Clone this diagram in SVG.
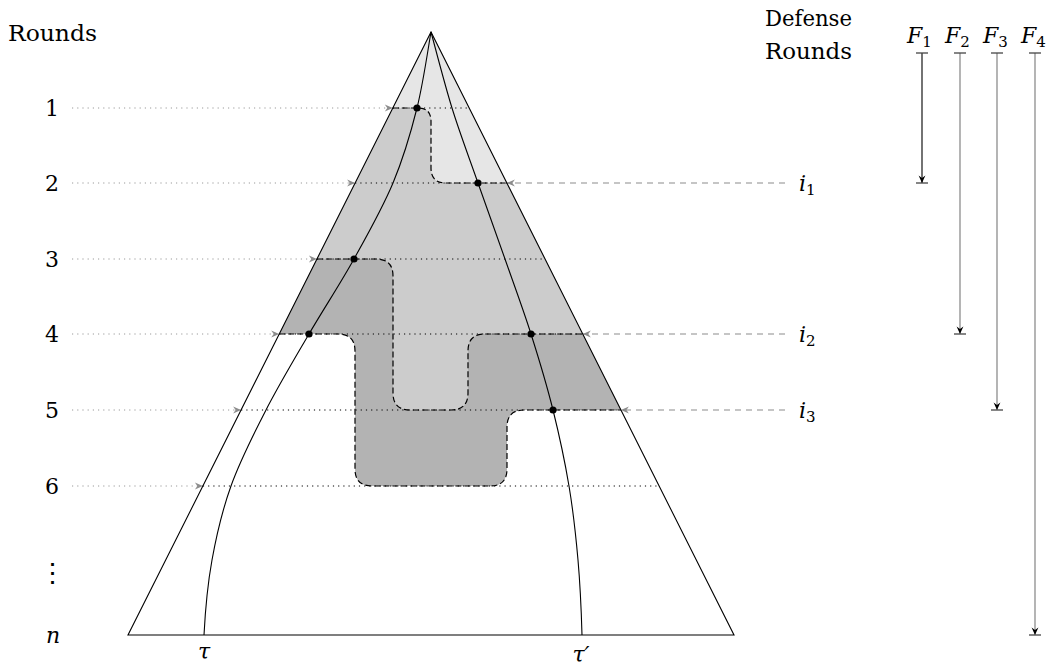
<svg xmlns="http://www.w3.org/2000/svg" width="1055" height="668" viewBox="0 0 1055 668">
<defs>
<style>
text{font-family:'DejaVu Serif',serif;font-size:22px;fill:#000}
.it{font-style:italic}
.sub{font-size:15px;font-style:normal}
.edge{fill:none;stroke:#000;stroke-width:1.1}
.bd{fill:none;stroke:#000;stroke-width:1.2;stroke-dasharray:6,3}
.dotin{stroke:#000;stroke-width:1;stroke-dasharray:1.2,4}
.dotout{stroke:#9a9a9a;stroke-width:1;stroke-dasharray:1.2,4;marker-end:url(#ag)}
.dash{stroke:#8c8c8c;stroke-width:1.1;stroke-dasharray:6,5;marker-end:url(#ag)}
.fl{stroke-width:1.1;marker-end:url(#ab)}
.bar{stroke:#444;stroke-width:1.3}
</style>
<marker id="ag" viewBox="-9 -5 10 10" markerWidth="10" markerHeight="10" refX="0" refY="0" orient="auto" markerUnits="userSpaceOnUse"><path d="M0,0 L-8,-3.6 L-5.5,0 L-8,3.6 Z" fill="#8c8c8c"/></marker>
<marker id="ab" viewBox="-9 -5 10 10" markerWidth="10" markerHeight="10" refX="0" refY="0" orient="auto" markerUnits="userSpaceOnUse"><path d="M0,0 L-7.5,-3.4 L-5,0 L-7.5,3.4 Z" fill="#000"/></marker>
</defs>

<g id="regions">
<path id="region-medium" fill="#cccccc" d="M431,32 L279.2,334 L338,334 Q355,334 355,351 L355,469 Q355,486 372,486 L490,486 Q507,486 507,469 L507,427 Q507,410 524,410 L620.9,410 Z"/>
<path id="region-light" fill="#e6e6e6" d="M431,32 L392.8,108 L418,108 Q431,108 431,121 L431,168 Q431,183 446,183 L506.9,183 Z"/>
<path id="region-dark" fill="#b3b3b3" d="M316.9,259 L376,259 Q393,259 393,276 L393,393 Q393,410 410,410 L451,410 Q468,410 468,393 L468,351 Q468,334 485,334 L582.8,334 L620.9,410 L524,410 Q507,410 507,427 L507,469 Q507,486 490,486 L372,486 Q355,486 355,469 L355,351 Q355,334 338,334 L279.2,334 Z"/>
</g>

<g id="connectors">
<line class="dotout" x1="72" y1="108" x2="392.8" y2="108"/>
<line class="dotout" x1="72" y1="183" x2="355.1" y2="183"/>
<line class="dotout" x1="72" y1="259" x2="316.9" y2="259"/>
<line class="dotout" x1="72" y1="334" x2="279.2" y2="334"/>
<line class="dotout" x1="72" y1="410" x2="241.1" y2="410"/>
<line class="dotout" x1="72" y1="486" x2="202.9" y2="486"/>
<line class="dotin" x1="392.8" y1="108" x2="469.2" y2="108"/>
<line class="dotin" x1="355.1" y1="183" x2="506.9" y2="183"/>
<line class="dotin" x1="316.9" y1="259" x2="545.1" y2="259"/>
<line class="dotin" x1="279.2" y1="334" x2="582.8" y2="334"/>
<line class="dotin" x1="241.1" y1="410" x2="620.9" y2="410"/>
<line class="dotin" x1="202.9" y1="486" x2="659.1" y2="486"/>
<line class="dash" x1="785" y1="183" x2="506.9" y2="183"/>
<line class="dash" x1="785" y1="334" x2="582.8" y2="334"/>
<line class="dash" x1="785" y1="410" x2="620.9" y2="410"/>

<path class="bd" d="M392.8,108 L418,108 Q431,108 431,121 L431,168 Q431,183 446,183 L506.9,183"/>
<path class="bd" d="M316.9,259 L376,259 Q393,259 393,276 L393,393 Q393,410 410,410 L451,410 Q468,410 468,393 L468,351 Q468,334 485,334 L582.8,334"/>
<path class="bd" d="M279.2,334 L338,334 Q355,334 355,351 L355,469 Q355,486 372,486 L490,486 Q507,486 507,469 L507,427 Q507,410 524,410 L620.9,410"/>

<path id="triangle" class="edge" d="M431,32 L128,635 L734,635 Z"/>
<path id="curve-tau" class="edge" d="M431,32 C428.7,44.7 423.3,82.8 417,108 C410.7,133.2 403.5,157.8 393,183 C382.5,208.2 368,233.8 354,259 C340,284.2 323.7,308.8 309,334 C294.3,359.2 279,384.7 266,410 C253,435.3 240,461 231,486 C222,511 216.5,535.2 212,560 C207.5,584.8 205.3,610 204,635"/>
<path id="curve-tau-prime" class="edge" d="M431,32 C434.5,44.7 444.2,82.8 452,108 C459.8,133.2 469.2,157.8 478,183 C486.8,208.2 496.2,233.8 505,259 C513.8,284.2 523,308.8 531,334 C539,359.2 546.7,384.7 553,410 C559.3,435.3 564.8,461 569,486 C573.2,511 575.8,535.2 578,560 C580.2,584.8 581.3,610 582,635"/>

<line class="fl" x1="922" y1="53" x2="922" y2="183" stroke="#000"/>
<line class="fl" x1="960" y1="53" x2="960" y2="334" stroke="#777"/>
<line class="fl" x1="997" y1="53" x2="997" y2="410" stroke="#777"/>
<line class="fl" x1="1035" y1="53" x2="1035" y2="635" stroke="#777"/>
<g class="bar">
<line x1="916" y1="53" x2="928" y2="53"/><line x1="916" y1="183" x2="928" y2="183"/>
<line x1="954" y1="53" x2="966" y2="53"/><line x1="954" y1="334" x2="966" y2="334"/>
<line x1="991" y1="53" x2="1003" y2="53"/><line x1="991" y1="410" x2="1003" y2="410"/>
<line x1="1029" y1="53" x2="1041" y2="53"/><line x1="1029" y1="635" x2="1041" y2="635"/>
</g>
</g>

<g id="dots" fill="#000">
<circle cx="417" cy="108" r="3.6"/>
<circle cx="478" cy="183" r="3.6"/>
<circle cx="354" cy="259" r="3.6"/>
<circle cx="309" cy="334" r="3.6"/>
<circle cx="531" cy="334" r="3.6"/>
<circle cx="553" cy="410" r="3.6"/>
</g>

<g id="labels">
<text x="8" y="41" textLength="89" lengthAdjust="spacingAndGlyphs">Rounds</text>
<text x="52" y="116" text-anchor="middle">1</text>
<text x="52" y="191" text-anchor="middle">2</text>
<text x="52" y="267" text-anchor="middle">3</text>
<text x="52" y="342" text-anchor="middle">4</text>
<text x="52" y="418" text-anchor="middle">5</text>
<text x="52" y="494" text-anchor="middle">6</text>
<text x="52" y="582" text-anchor="middle" style="font-size:27px">⋮</text>
<text x="53" y="643" text-anchor="middle" class="it">n</text>
<text x="204" y="659" text-anchor="middle" class="it">τ</text>
<text x="581" y="662" text-anchor="middle" class="it">τ′</text>
<text x="765" y="26" textLength="87" lengthAdjust="spacingAndGlyphs">Defense</text>
<text x="765" y="59" textLength="87" lengthAdjust="spacingAndGlyphs">Rounds</text>
<text x="799" y="191" class="it">i<tspan class="sub" dy="4">1</tspan></text>
<text x="799" y="342" class="it">i<tspan class="sub" dy="4">2</tspan></text>
<text x="799" y="418" class="it">i<tspan class="sub" dy="4">3</tspan></text>
<text x="907" y="43" class="it">F<tspan class="sub" dy="4">1</tspan></text>
<text x="945" y="43" class="it">F<tspan class="sub" dy="4">2</tspan></text>
<text x="983" y="43" class="it">F<tspan class="sub" dy="4">3</tspan></text>
<text x="1021" y="43" class="it">F<tspan class="sub" dy="4">4</tspan></text>
</g>
</svg>
